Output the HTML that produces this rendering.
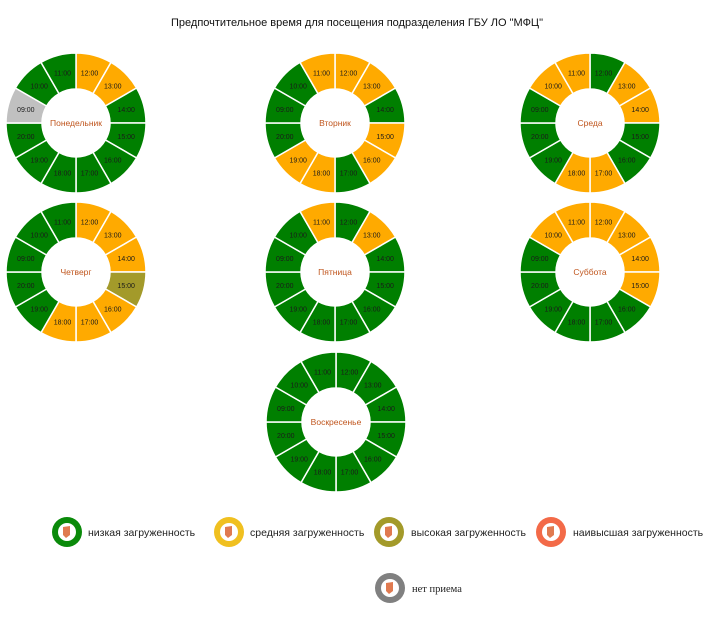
<!DOCTYPE html>
<html><head><meta charset="utf-8"><style>
body{margin:0;background:#fff;width:723px;height:636px;overflow:hidden}
svg{display:block}
.t{font-family:"Liberation Sans","DejaVu Sans",sans-serif}
</style></head><body>
<svg width="723" height="636" viewBox="0 0 723 636" xmlns="http://www.w3.org/2000/svg">
<defs>
<path id="w0" d="M0,-70 A70,70 0 0 1 35,-60.6 L17,-29.4 A34,34 0 0 0 0,-34 Z"/>
<path id="w1" d="M35,-60.6 A70,70 0 0 1 60.6,-35 L29.4,-17 A34,34 0 0 0 17,-29.4 Z"/>
<path id="w2" d="M60.6,-35 A70,70 0 0 1 70,0 L34,0 A34,34 0 0 0 29.4,-17 Z"/>
<path id="w3" d="M70,0 A70,70 0 0 1 60.6,35 L29.4,17 A34,34 0 0 0 34,0 Z"/>
<path id="w4" d="M60.6,35 A70,70 0 0 1 35,60.6 L17,29.4 A34,34 0 0 0 29.4,17 Z"/>
<path id="w5" d="M35,60.6 A70,70 0 0 1 0,70 L0,34 A34,34 0 0 0 17,29.4 Z"/>
<path id="w6" d="M0,70 A70,70 0 0 1 -35,60.6 L-17,29.4 A34,34 0 0 0 0,34 Z"/>
<path id="w7" d="M-35,60.6 A70,70 0 0 1 -60.6,35 L-29.4,17 A34,34 0 0 0 -17,29.4 Z"/>
<path id="w8" d="M-60.6,35 A70,70 0 0 1 -70,0 L-34,0 A34,34 0 0 0 -29.4,17 Z"/>
<path id="w9" d="M-70,0 A70,70 0 0 1 -60.6,-35 L-29.4,-17 A34,34 0 0 0 -34,0 Z"/>
<path id="w10" d="M-60.6,-35 A70,70 0 0 1 -35,-60.6 L-17,-29.4 A34,34 0 0 0 -29.4,-17 Z"/>
<path id="w11" d="M-35,-60.6 A70,70 0 0 1 0,-70 L0,-34 A34,34 0 0 0 -17,-29.4 Z"/>
<g id="lbl" class="t" font-size="7" fill="#1a1a1a" text-anchor="middle">
<text x="13.5" y="-47.7">12:00</text>
<text x="36.8" y="-34.3">13:00</text>
<text x="50.2" y="-11">14:00</text>
<text x="50.2" y="16">15:00</text>
<text x="36.8" y="39.3">16:00</text>
<text x="13.5" y="52.7">17:00</text>
<text x="-13.5" y="52.7">18:00</text>
<text x="-36.8" y="39.3">19:00</text>
<text x="-50.2" y="16">20:00</text>
<text x="-50.2" y="-11">09:00</text>
<text x="-36.8" y="-34.3">10:00</text>
<text x="-13.5" y="-47.7">11:00</text>
</g>
</defs>
<style>
use{stroke:#fff;stroke-width:1.5}
.G{fill:#007f00}.O{fill:#ffaa00}.R{fill:#c0c0c0}.L{fill:#a39a2a}
</style>
<text class="t" x="357" y="26" font-size="11" text-anchor="middle" fill="#111">Предпочтительное время для посещения подразделения ГБУ ЛО "МФЦ"</text>

<g transform="translate(76,123)">
<use href="#w0" class="O"/><use href="#w1" class="O"/><use href="#w2" class="G"/><use href="#w3" class="G"/><use href="#w4" class="G"/><use href="#w5" class="G"/><use href="#w6" class="G"/><use href="#w7" class="G"/><use href="#w8" class="G"/><use href="#w9" class="R"/><use href="#w10" class="G"/><use href="#w11" class="G"/>
<use href="#lbl" style="stroke:none"/>
<text class="t" x="0" y="3" font-size="8.5" fill="#c0561e" text-anchor="middle">Понедельник</text>
</g>
<g transform="translate(335,123)">
<use href="#w0" class="O"/><use href="#w1" class="O"/><use href="#w2" class="G"/><use href="#w3" class="O"/><use href="#w4" class="O"/><use href="#w5" class="G"/><use href="#w6" class="O"/><use href="#w7" class="O"/><use href="#w8" class="G"/><use href="#w9" class="G"/><use href="#w10" class="G"/><use href="#w11" class="O"/>
<use href="#lbl" style="stroke:none"/>
<text class="t" x="0" y="3" font-size="8.5" fill="#c0561e" text-anchor="middle">Вторник</text>
</g>
<g transform="translate(590,123)">
<use href="#w0" class="G"/><use href="#w1" class="O"/><use href="#w2" class="O"/><use href="#w3" class="G"/><use href="#w4" class="G"/><use href="#w5" class="O"/><use href="#w6" class="O"/><use href="#w7" class="G"/><use href="#w8" class="G"/><use href="#w9" class="G"/><use href="#w10" class="O"/><use href="#w11" class="O"/>
<use href="#lbl" style="stroke:none"/>
<text class="t" x="0" y="3" font-size="8.5" fill="#c0561e" text-anchor="middle">Среда</text>
</g>
<g transform="translate(76,272)">
<use href="#w0" class="O"/><use href="#w1" class="O"/><use href="#w2" class="O"/><use href="#w3" class="L"/><use href="#w4" class="O"/><use href="#w5" class="O"/><use href="#w6" class="O"/><use href="#w7" class="G"/><use href="#w8" class="G"/><use href="#w9" class="G"/><use href="#w10" class="G"/><use href="#w11" class="G"/>
<use href="#lbl" style="stroke:none"/>
<text class="t" x="0" y="3" font-size="8.5" fill="#c0561e" text-anchor="middle">Четверг</text>
</g>
<g transform="translate(335,272)">
<use href="#w0" class="G"/><use href="#w1" class="O"/><use href="#w2" class="G"/><use href="#w3" class="G"/><use href="#w4" class="G"/><use href="#w5" class="G"/><use href="#w6" class="G"/><use href="#w7" class="G"/><use href="#w8" class="G"/><use href="#w9" class="G"/><use href="#w10" class="G"/><use href="#w11" class="O"/>
<use href="#lbl" style="stroke:none"/>
<text class="t" x="0" y="3" font-size="8.5" fill="#c0561e" text-anchor="middle">Пятница</text>
</g>
<g transform="translate(590,272)">
<use href="#w0" class="O"/><use href="#w1" class="O"/><use href="#w2" class="O"/><use href="#w3" class="O"/><use href="#w4" class="G"/><use href="#w5" class="G"/><use href="#w6" class="G"/><use href="#w7" class="G"/><use href="#w8" class="G"/><use href="#w9" class="G"/><use href="#w10" class="O"/><use href="#w11" class="O"/>
<use href="#lbl" style="stroke:none"/>
<text class="t" x="0" y="3" font-size="8.5" fill="#c0561e" text-anchor="middle">Суббота</text>
</g>
<g transform="translate(336,422)">
<use href="#w0" class="G"/><use href="#w1" class="G"/><use href="#w2" class="G"/><use href="#w3" class="G"/><use href="#w4" class="G"/><use href="#w5" class="G"/><use href="#w6" class="G"/><use href="#w7" class="G"/><use href="#w8" class="G"/><use href="#w9" class="G"/><use href="#w10" class="G"/><use href="#w11" class="G"/>
<use href="#lbl" style="stroke:none"/>
<text class="t" x="0" y="3" font-size="8.5" fill="#c0561e" text-anchor="middle">Воскресенье</text>
</g>

<g class="t" font-size="10.5" fill="#222">
<circle cx="67" cy="532" r="15" fill="#0a8a0a"/><circle cx="67" cy="532" r="9" fill="#fff"/><path d="M63,527 L70,526 L70,535 L66,538 L63,535 Z" fill="#e07a50"/>
<text x="88" y="536">низкая загруженность</text>
<circle cx="229" cy="532" r="15" fill="#f0c020"/><circle cx="229" cy="532" r="9" fill="#fff"/><path d="M225,527 L232,526 L232,535 L228,538 L225,535 Z" fill="#e07a50"/>
<text x="250" y="536">средняя загруженность</text>
<circle cx="389" cy="532" r="15" fill="#a39a2a"/><circle cx="389" cy="532" r="9" fill="#fff"/><path d="M385,527 L392,526 L392,535 L388,538 L385,535 Z" fill="#e07a50"/>
<text x="411" y="536">высокая загруженность</text>
<circle cx="551" cy="532" r="15" fill="#f36a48"/><circle cx="551" cy="532" r="9" fill="#fff"/><path d="M547,527 L554,526 L554,535 L550,538 L547,535 Z" fill="#e07a50"/>
<text x="573" y="536">наивысшая загруженность</text>
<circle cx="390" cy="588" r="15" fill="#808080"/><circle cx="390" cy="588" r="9" fill="#fff"/><path d="M386,583 L393,582 L393,591 L389,594 L386,591 Z" fill="#e07a50"/>
<text x="412" y="592" style="font-family:'Liberation Serif',serif">нет приема</text>
</g>
</svg>
</body></html>
